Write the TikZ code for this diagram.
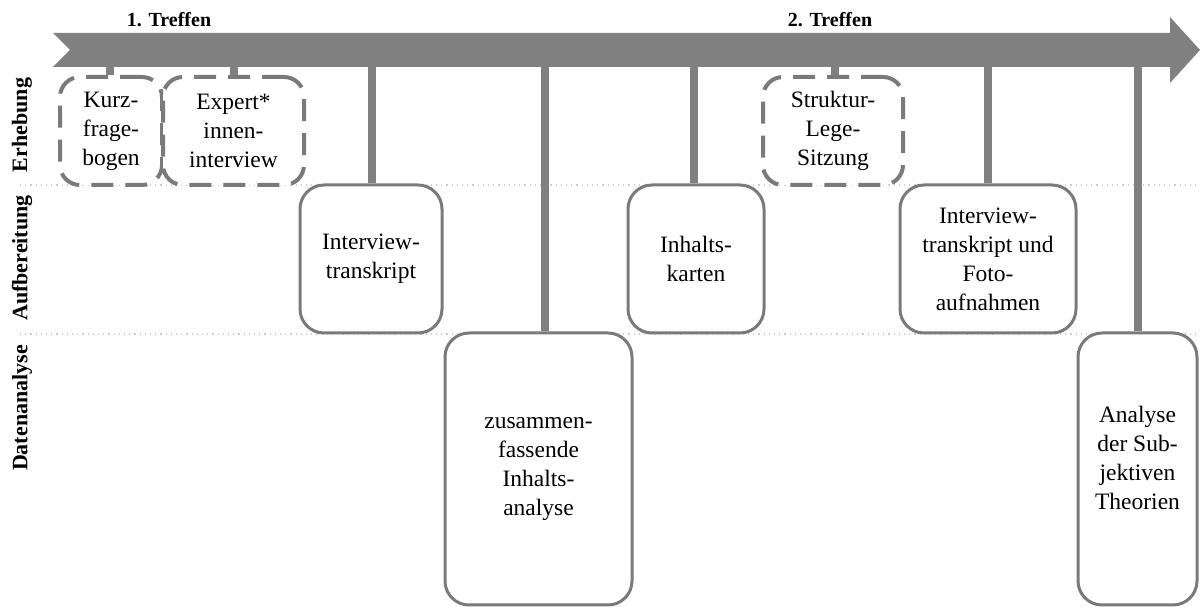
\documentclass[tikz,border=0pt]{standalone}
\usepackage{fontspec}
\setmainfont{Liberation Serif}
\usetikzlibrary{calc}
\definecolor{arrowgray}{RGB}{128,128,128}
\definecolor{boxgray}{RGB}{122,122,122}
\definecolor{sepgray}{RGB}{205,205,205}
\begin{document}
\begin{tikzpicture}[x=0.5pt,y=-0.5pt,
  box/.style={draw=boxgray, line width=1.5pt, rounded corners=12pt, fill=white, align=center,
    font=\fontsize{11.75}{14.5}\selectfont, inner sep=0pt},
  dbox/.style={box, dash pattern=on 11pt off 6pt, line width=2pt, rounded corners=10pt},
  txt/.style={align=center, font=\fontsize{11.75}{14.5}\selectfont, inner sep=0pt},
  stem/.style={draw=arrowgray, line width=4pt},
  lane/.style={font=\bfseries\fontsize{11}{13}\selectfont, rotate=90},
  meet/.style={font=\bfseries\fontsize{10}{12}\selectfont},
  sep/.style={draw=sepgray, line width=0.6pt, dotted}]
\useasboundingbox (0,0) rectangle (1200,608);

% lane separators
\draw[sep] (20,185) -- (1200,185);
\draw[sep] (20,334) -- (1200,334);

% lane labels
\node[lane] (erh) at (22,125) {Erhebung};
\node[lane] (auf) at (22,258) {Aufbereitung};
\node[lane] (dat) at (22,408) {Datenanalyse};

% meeting labels
\node[meet] (t1) at (169,20) {1. Treffen};
\node[meet] (t2) at (830,20) {2. Treffen};

\coordinate (axis) at (0,50);

% boxes (nodes placed first, drawn later on top of stems)
\begin{scope}[on background layer/.try]
\end{scope}
\path
  node[dbox, draw=none, fill=none, minimum width=51pt, minimum height=54pt] (kurz) at (111,131) {}
  node[dbox, draw=none, fill=none, minimum width=70.5pt, minimum height=54pt] (expert) at (233.5,131) {}
  node[dbox, draw=none, fill=none, minimum width=70pt, minimum height=54pt] (struktur) at (833,131) {}
  node[box, draw=none, fill=none, minimum width=71pt, minimum height=74pt] (itrans) at (371,259) {}
  node[box, draw=none, fill=none, minimum width=68pt, minimum height=74pt] (inhalt) at (696,259) {}
  node[box, draw=none, fill=none, minimum width=88pt, minimum height=74pt] (ifoto) at (988,259) {}
  node[box, draw=none, fill=none, minimum width=93.5pt, minimum height=136pt] (zus) at (538.5,469) {}
  node[box, draw=none, fill=none, minimum width=59.5pt, minimum height=136pt] (analyse) at (1137.5,469) {};

% stems
\draw[stem] ($(kurz.north |- axis)+(-1,0)$) -- ($(kurz.north)+(-1,0)$);
\draw[stem] (expert.north |- axis) -- (expert.north);
\draw[stem] ($(itrans.north |- axis)+(1,0)$) -- ($(itrans.north)+(1,0)$);
\draw[stem] ($(zus.north |- axis)+(6,0)$) -- ($(zus.north)+(6,0)$);
\draw[stem] ($(inhalt.north |- axis)+(-2,0)$) -- ($(inhalt.north)+(-2,0)$);
\draw[stem] ($(struktur.north |- axis)+(2,0)$) -- ($(struktur.north)+(2,0)$);
\draw[stem] (ifoto.north |- axis) -- (ifoto.north);
\draw[stem] (analyse.north |- axis) -- (analyse.north);

% time arrow
\fill[arrowgray] (53,33) -- (1170,33) -- (1170,17) -- (1200,50) -- (1170,83) -- (1170,67)
  -- (53,67) -- (70,50) -- cycle;

% visible boxes
\node[dbox, minimum width=51pt, minimum height=54pt] (kurzb) at (kurz) {Kurz-\\frage-\\bogen};
\node[dbox, minimum width=70.5pt, minimum height=54pt] (expertb) at (expert) {Expert*\\innen-\\interview};
\node[dbox, minimum width=70pt, minimum height=54pt] (strukturb) at (struktur) {Struktur-\\Lege-\\Sitzung};
\node[box, minimum width=71pt, minimum height=74pt] (itransb) at (itrans) {Interview-\\transkript};
\node[box, minimum width=68pt, minimum height=74pt] (inhaltb) at (inhalt) {Inhalts-\\karten};
\node[box, minimum width=88pt, minimum height=74pt] (ifotob) at (ifoto) {Interview-\\transkript und\\Foto-\\aufnahmen};
\node[box, minimum width=93.5pt, minimum height=136pt] (zusb) at (zus) {zusammen-\\fassende\\Inhalts-\\analyse};
\node[box, minimum width=59.5pt, minimum height=136pt] (analyseb) at (analyse) {};
\node[txt] (analysetxt) at (1137.5,458) {Analyse\\der Sub-\\jektiven\\Theorien};
\end{tikzpicture}
\end{document}
